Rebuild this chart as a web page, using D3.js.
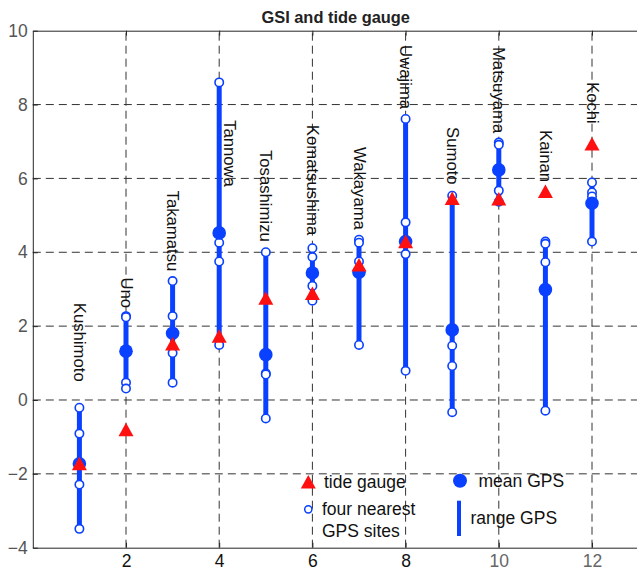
<!DOCTYPE html>
<html>
<head>
<meta charset="utf-8">
<script src="https://cdn.jsdelivr.net/npm/d3@7"></script>
<style>
  html, body { margin: 0; padding: 0; background: #fff; }
  svg { display: block; font-family: "Liberation Sans", Arial, sans-serif; }
</style>
</head>
<body>
<svg id="chart" width="637" height="577"></svg>
<script>
// Tide gauge stations, in plotting order along the x axis
const stations = ["Kushimoto", "Uno", "Takamatsu", "Tannowa", "Tosashimizu", "Komatsushima",
                  "Wakayama", "Uwajima", "Sumoto", "Matsuyama", "Kainan", "Kochi"];
const stationIndex = [1, 2, 3, 4, 5, 6, 7, 8, 9, 10, 11, 12];

// Tide gauge value per station
const tideGauge = [-1.72, -0.80, 1.52, 1.73, 2.76, 2.89, 3.66, 4.29, 5.46, 5.45, 5.65, 6.94];

// Values at the four nearest GPS sites of each station
const gpsSites = [
  [-0.21, -0.91, -2.29, -3.49],
  [2.27, 2.24, 0.47, 0.31],
  [3.22, 2.27, 1.27, 0.47],
  [8.60, 4.26, 3.75, 1.49],
  [4.00, 0.72, 0.69, -0.50],
  [4.11, 3.87, 3.09, 2.69],
  [4.34, 4.26, 3.75, 1.49],
  [7.61, 4.81, 3.95, 0.79],
  [5.53, 1.47, 0.92, -0.33],
  [6.97, 6.91, 5.67, 5.37],
  [4.29, 4.23, 3.73, -0.29],
  [5.89, 5.62, 5.51, 4.29]
];

// Where each station name starts (data coordinates)
const labelX = [1, 2, 3, 4.22, 5, 6, 7, 8, 9, 10, 11, 12];
const labelY = [2.63, 3.32, 5.67, 7.58, 6.77, 7.45, 6.85, 9.61, 7.39, 9.56, 7.31, 8.61];

const xTicks = [2, 4, 6, 8, 10, 12];
const yTicks = [-4, -2, 0, 2, 4, 6, 8, 10];

const BLUE = "#0a40ff";
const RED = "#ff1010";

const svg = d3.select("#chart");
const x = d3.scaleLinear().domain([0, 13]).range([32.8, 638.6]);
const y = d3.scaleLinear().domain([-4, 10]).range([547.7, 30.7]);

// grid
const grid = svg.append("g").attr("stroke", "#333").attr("stroke-width", 1)
  .attr("stroke-dasharray", "8,5").attr("fill", "none");
grid.selectAll("line.v").data(xTicks).join("line").attr("class", "v")
  .attr("x1", d => x(d)).attr("x2", d => x(d))
  .attr("y1", y(-4)).attr("y2", y(10));
grid.selectAll("line.h").data(yTicks.filter(d => d > -4 && d < 10)).join("line").attr("class", "h")
  .attr("y1", d => y(d)).attr("y2", d => y(d))
  .attr("x1", x(0)).attr("x2", x(13));

// axes (ticks point inward)
const axisColor = "#262626";
const gBottom = svg.append("g").attr("transform", `translate(0,${y(-4)})`)
  .call(d3.axisBottom(x).tickValues(xTicks).tickSize(-5).tickPadding(9).tickSizeOuter(0));
const gTop = svg.append("g").attr("transform", `translate(0,${y(10)})`)
  .call(d3.axisTop(x).tickValues(xTicks).tickSize(-5).tickFormat("").tickSizeOuter(0));
const gLeft = svg.append("g").attr("transform", `translate(${x(0)},0)`)
  .call(d3.axisLeft(y).tickValues(yTicks).tickSize(-5).tickPadding(9).tickSizeOuter(0));
[gBottom, gTop, gLeft].forEach(g => {
  g.select(".domain").attr("stroke", axisColor).attr("stroke-width", 1);
  g.selectAll(".tick line").attr("stroke", axisColor);
  g.selectAll(".tick text").attr("font-family", "Liberation Sans, Arial, sans-serif")
    .attr("font-size", 17.5);
});
gLeft.selectAll(".tick text").attr("fill", "#555").attr("dx", 4);
gBottom.selectAll(".tick text").attr("fill", d => d >= 10 ? "#666" : "#111").attr("dy", "0.6em");

// title
svg.append("text").attr("x", (x(0) + x(13)) / 2).attr("y", 23)
  .attr("text-anchor", "middle").attr("font-weight", "bold").attr("font-size", 16.4)
  .attr("fill", "#222").text("GSI and tide gauge");

const rows = stations.map((name, i) => ({
  name, xi: stationIndex[i], sites: gpsSites[i], tide: tideGauge[i],
  mean: d3.mean(gpsSites[i]), ext: d3.extent(gpsSites[i]),
  lx: labelX[i], ly: labelY[i]
}));

// station names, rotated to read downward
svg.append("g").selectAll("text").data(rows).join("text")
  .attr("transform", d => `translate(${x(d.lx)},${y(d.ly)}) rotate(90)`)
  .attr("text-anchor", "start").attr("dominant-baseline", "central")
  .attr("font-size", 16.7).attr("fill", "#111").text(d => d.name);

// GPS range bars
svg.append("g").selectAll("line").data(rows).join("line")
  .attr("x1", d => x(d.xi)).attr("x2", d => x(d.xi))
  .attr("y1", d => y(d.ext[0])).attr("y2", d => y(d.ext[1]))
  .attr("stroke", BLUE).attr("stroke-width", 5);

// four nearest GPS sites
svg.append("g").selectAll("g").data(rows).join("g")
  .selectAll("circle").data(d => d.sites.map(v => ({ xi: d.xi, v }))).join("circle")
  .attr("cx", d => x(d.xi)).attr("cy", d => y(d.v)).attr("r", 4.2)
  .attr("fill", "#fff").attr("stroke", BLUE).attr("stroke-width", 1.6);

// mean GPS
svg.append("g").selectAll("circle").data(rows).join("circle")
  .attr("cx", d => x(d.xi)).attr("cy", d => y(d.mean)).attr("r", 6.8).attr("fill", BLUE);

// tide gauge triangles
const tri = (cx, cy, w, h) => `M${cx - w / 2},${cy + h / 2}L${cx},${cy - h / 2}L${cx + w / 2},${cy + h / 2}Z`;
svg.append("g").selectAll("path").data(rows).join("path")
  .attr("d", d => tri(x(d.xi), y(d.tide), 15, 13.5)).attr("fill", RED);

// legend
const lg = svg.append("g").attr("font-size", 17.5).attr("fill", "#111");
lg.append("path").attr("d", tri(308.3, 481.7, 15, 13.5)).attr("fill", RED);
lg.append("text").attr("x", 324).attr("y", 481.5).attr("dominant-baseline", "central").text("tide gauge");
lg.append("circle").attr("cx", 308.3).attr("cy", 509.3).attr("r", 3.6)
  .attr("fill", "#fff").attr("stroke", BLUE).attr("stroke-width", 1.5);
lg.append("text").attr("x", 322).attr("y", 509.3).attr("dominant-baseline", "central").text("four nearest");
lg.append("text").attr("x", 322).attr("y", 530.7).attr("dominant-baseline", "central").text("GPS sites");
lg.append("circle").attr("cx", 460).attr("cy", 480.7).attr("r", 7).attr("fill", BLUE);
lg.append("text").attr("x", 478.5).attr("y", 481).attr("dominant-baseline", "central").text("mean GPS");
lg.append("line").attr("x1", 459).attr("x2", 459).attr("y1", 500.7).attr("y2", 536)
  .attr("stroke", BLUE).attr("stroke-width", 4);
lg.append("text").attr("x", 470.5).attr("y", 518.3).attr("dominant-baseline", "central").text("range GPS");
</script>
</body>
</html>
